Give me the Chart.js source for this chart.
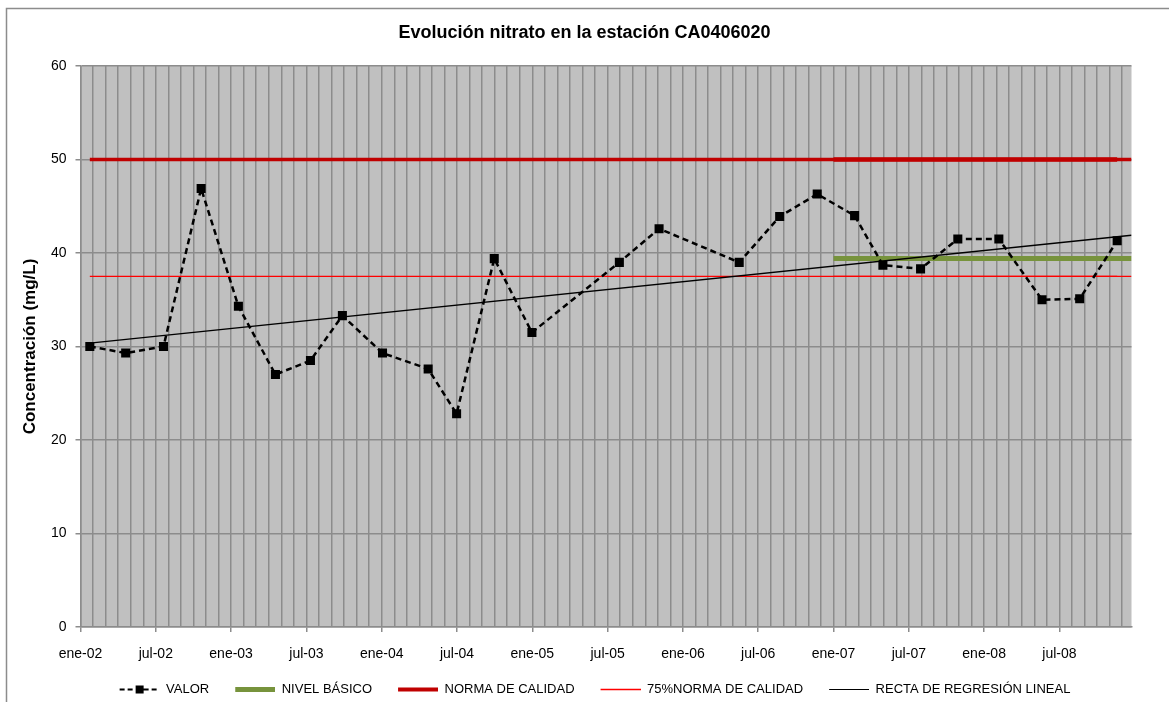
<!DOCTYPE html>
<html lang="es">
<head>
<meta charset="utf-8">
<title>Evolución nitrato en la estación CA0406020</title>
<script src="https://cdn.jsdelivr.net/npm/chart.js@4.4.1/dist/chart.umd.min.js"></script>
<style>
  html, body { margin: 0; padding: 0; background: #fff; overflow: hidden; }
</style>
</head>
<body>
<canvas id="grafico" width="1169" height="702"></canvas>
<script>
// Fechas de muestreo y concentración de nitrato medida (mg/L)
const fechas = [
  '2002-01-24', '2002-04-19', '2002-07-20', '2002-10-20',
  '2003-01-19', '2003-04-17', '2003-07-11', '2003-09-27',
  '2004-01-03', '2004-04-22', '2004-06-30', '2004-09-30', '2004-12-31',
  '2005-07-30', '2005-11-04',
  '2006-05-16', '2006-08-23', '2006-11-22',
  '2007-02-20', '2007-04-29', '2007-07-30', '2007-10-29',
  '2008-02-06', '2008-05-20', '2008-08-20', '2008-11-19'
];
const valores = [
  30.0, 29.3, 30.0, 46.9,
  34.3, 27.0, 28.5, 33.3,
  29.3, 27.6, 22.8, 39.4, 31.5,
  39.0, 42.6,
  39.0, 43.9, 46.3,
  44.0, 38.7, 38.3, 41.5,
  41.5, 35.0, 35.1, 41.3
];

// Etiquetas del eje X, una cada seis meses
const etiquetasX = ['ene-02', 'jul-02', 'ene-03', 'jul-03', 'ene-04', 'jul-04', 'ene-05',
  'jul-05', 'ene-06', 'jul-06', 'ene-07', 'jul-07', 'ene-08', 'jul-08'];

// Niveles de referencia
const normaCalidad = 50;
const normaCalidad75 = 37.5;
const nivelBasico = 39.4;
const inicioNivelBasico = '2007-01-01';
const finEje = '2008-12-24';
const rectaRegresion = [30.35, 41.9]; // valor al principio y al final de la recta

Chart.defaults.font.family = "'Liberation Sans', Arial, sans-serif";
Chart.defaults.color = '#000';

// Meses transcurridos desde enero de 2002 (con fracción del mes)
function mes(fecha) {
  const [a, m, d] = fecha.split('-').map(Number);
  const dias = new Date(a, m, 0).getDate();
  return (a - 2002) * 12 + (m - 1) + (d - 1) / dias;
}

const xIni = mes(fechas[0]);
const xUlt = mes(fechas[fechas.length - 1]);
const xFin = mes(finEje);
const xNivel = mes(inicioNivelBasico);

const segmento = (x0, x1, y0, y1) => [{x: x0, y: y0}, {x: x1, y: y1 === undefined ? y0 : y1}];

// Muestras de línea para la leyenda
function muestraLeyenda(color, grosor, guiones, conCuadro) {
  const c = document.createElement('canvas');
  c.width = 61;
  c.height = 13;
  const g = c.getContext('2d');
  g.strokeStyle = color;
  g.lineWidth = grosor;
  g.setLineDash(guiones || []);
  g.beginPath();
  g.moveTo(21, 6.5);
  g.lineTo(61, 6.5);
  g.stroke();
  if (conCuadro) {
    g.fillStyle = color;
    g.fillRect(37, 2.5, 8, 8);
  }
  return c;
}
const muestras = [
  muestraLeyenda('#000', 2, [5, 3], true),
  muestraLeyenda('#77933C', 5),
  muestraLeyenda('#C00000', 4),
  muestraLeyenda('#FF0000', 1.5),
  muestraLeyenda('#000', 1.2)
];

const sinPuntos = {pointRadius: 0, pointHoverRadius: 0, tension: 0};

const marcoYFondo = {
  id: 'marcoYFondo',
  beforeDraw(chart) {
    const {ctx, chartArea: a} = chart;
    ctx.save();
    ctx.fillStyle = '#C0C0C0';
    ctx.fillRect(a.left, a.top, a.right - a.left, a.bottom - a.top);
    ctx.strokeStyle = '#8c8c8c';
    ctx.lineWidth = 1.5;
    ctx.beginPath();
    ctx.moveTo(6.5, chart.height);
    ctx.lineTo(6.5, 8.5);
    ctx.lineTo(chart.width, 8.5);
    ctx.stroke();
    ctx.restore();
  },
  afterLayout(chart) {
    // la leyenda va un poco más abajo
    chart.legend.top += 4;
    chart.legend.bottom += 4;
  }
};

new Chart(document.getElementById('grafico'), {
  type: 'line',
  data: {
    datasets: [
      {
        label: 'VALOR',
        data: fechas.map((f, i) => ({x: mes(f), y: valores[i]})),
        borderColor: '#000',
        borderWidth: 2.5,
        borderDash: [6, 4],
        pointStyle: 'rect',
        pointRadius: 6.4,
        pointBackgroundColor: '#000',
        pointBorderWidth: 0,
        tension: 0,
        order: 0
      },
      {
        label: 'NIVEL BÁSICO',
        data: segmento(xNivel, xFin, nivelBasico),
        borderColor: '#77933C',
        borderWidth: 5,
        ...sinPuntos,
        order: 2
      },
      {
        label: 'NORMA DE CALIDAD',
        data: segmento(xIni, xFin, normaCalidad),
        borderColor: '#C00000',
        borderWidth: 3.5,
        ...sinPuntos,
        order: 3
      },
      {
        label: '75%NORMA DE CALIDAD',
        data: segmento(xIni, xFin, normaCalidad75),
        borderColor: '#FF0000',
        borderWidth: 1.3,
        ...sinPuntos,
        order: 4
      },
      {
        label: 'RECTA DE REGRESIÓN LINEAL',
        data: segmento(xIni, xFin, rectaRegresion[0], rectaRegresion[1]),
        borderColor: '#000',
        borderWidth: 1.3,
        ...sinPuntos,
        order: 1
      },
      // tramos del último periodo
      {
        label: 'norma 2007-2008',
        data: segmento(xNivel, xUlt, normaCalidad),
        borderColor: '#C00000',
        borderWidth: 4.5,
        ...sinPuntos,
        order: 3
      },
      {
        label: '75% norma 2007-2008',
        data: segmento(xNivel, xUlt, normaCalidad75),
        borderColor: '#FF0000',
        borderWidth: 1.3,
        ...sinPuntos,
        order: 4
      }
    ]
  },
  options: {
    responsive: false,
    devicePixelRatio: 1,
    animation: false,
    events: [],
    layout: {padding: 0},
    scales: {
      x: {
        type: 'linear',
        min: 0,
        max: xFin,
        afterFit: s => { s.height = 47; },
        grid: {
          color: '#8c8c8c',
          lineWidth: 1.5,
          tickLength: 5,
          tickColor: c => (c.tick && c.tick.value % 6 === 0) ? '#8c8c8c' : 'rgba(0,0,0,0)'
        },
        border: {color: '#8c8c8c', width: 1.5},
        ticks: {
          stepSize: 1,
          autoSkip: false,
          maxRotation: 0,
          includeBounds: false,
          padding: 14,
          font: {size: 14},
          callback: v => v % 6 === 0 ? (etiquetasX[v / 6] || '') : ''
        }
      },
      y: {
        min: 0,
        max: 60,
        afterFit: s => { s.width = 80.5; },
        grid: {color: '#8c8c8c', lineWidth: 1.5, tickLength: 5},
        border: {color: '#8c8c8c', width: 1.5},
        ticks: {stepSize: 10, padding: 9, font: {size: 14}},
        title: {
          display: true,
          text: 'Concentración (mg/L)',
          font: {size: 17, weight: 'bold'},
          padding: {top: 19.8, bottom: 0}
        }
      },
      yDer: {
        position: 'right',
        afterFit: s => { s.width = 37.5; },
        grid: {display: false},
        border: {display: false},
        ticks: {display: false}
      }
    },
    plugins: {
      title: {
        display: true,
        text: 'Evolución nitrato en la estación CA0406020',
        font: {size: 18, weight: 'bold'},
        padding: {top: 22.2, bottom: 22.2}
      },
      legend: {
        position: 'bottom',
        labels: {
          font: {size: 13},
          usePointStyle: true,
          pointStyleWidth: 61,
          padding: 5,
          filter: item => item.datasetIndex < 5,
          sort: (a, b) => a.datasetIndex - b.datasetIndex,
          generateLabels(chart) {
            const items = Chart.defaults.plugins.legend.labels.generateLabels(chart);
            items.forEach(it => { it.pointStyle = muestras[it.datasetIndex]; });
            return items;
          }
        }
      },
      tooltip: {enabled: false}
    }
  },
  plugins: [marcoYFondo]
});
</script>
</body>
</html>
